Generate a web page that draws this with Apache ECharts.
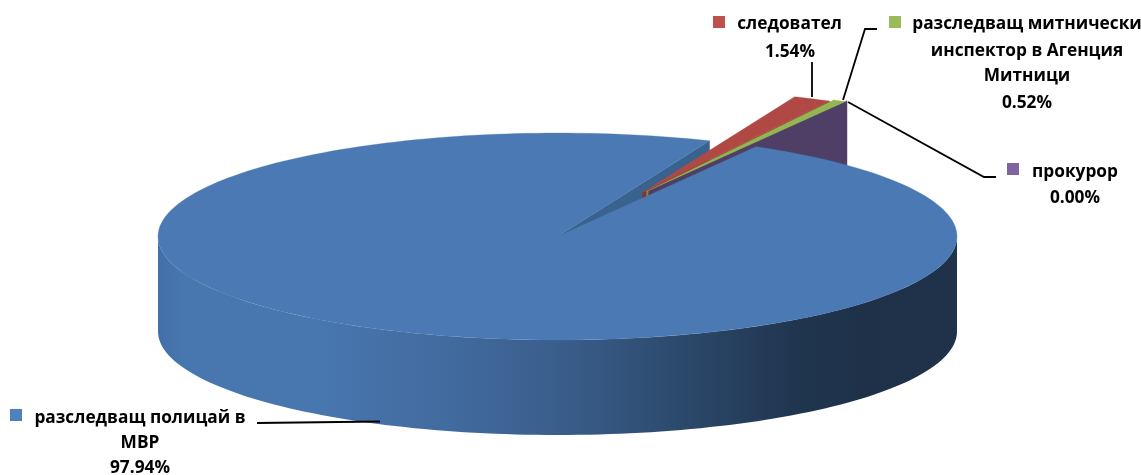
<!DOCTYPE html>
<html><head><meta charset="utf-8">
<style>html,body{margin:0;padding:0;background:#fff}#c{width:1141px;height:475px;filter:blur(0.4px)}</style>
<script src="https://cdn.jsdelivr.net/npm/echarts@6/dist/echarts.min.js"></script>
</head><body><div id="c"></div>
<script>
const categories = ['разследващ полицай в МВР','следовател','разследващ митнически инспектор в Агенция Митници','прокурор'];
const values = [97.94, 1.54, 0.52, 0.00];
const labelLines = [['разследващ полицай в','МВР'],['следовател'],['разследващ митнически','инспектор в Агенция','Митници'],['прокурор']];
const colors = ['#4a79b3','#b04844','#93b553','#5a4478'];
const wallColors = ['#3a628f','#8a3230','#74903f','#4f3e66'];
const keyColors = ['#4f81bd','#c0504d','#9bbb59','#8064a2'];

const P = {cx:557.5, cy:236.5, rx:399.5, ry:103.5, depth:95, start:60.2};
const explode = [[0,0],[85,-44],[89,-45],[91,-46]];
const labelPos = [
  {key:[10,409], lines:[[140,418],[140,443]], pct:[140,468]},
  {key:[713,16], lines:[[789.5,24]], pct:[790,52]},
  {key:[889,16], lines:[[1027,24],[1027,51],[1027,76]], pct:[1027,103]},
  {key:[1007,163], lines:[[1075,172]], pct:[1075,198]}
];
const leaders = [
  [[380,421.5],[257,423]],
  [[812,97],[812,62]],
  [[843,100],[865,29],[877,29]],
  [[848,102],[984,177],[996,177]]
];
const FONT = 'bold 17.3px "Open Sans", sans-serif';

const rad = d => d*Math.PI/180;
const pt = (a,o,dz) => [P.cx+o[0]+P.rx*Math.cos(rad(a)), P.cy+o[1]-P.ry*Math.sin(rad(a))+(dz||0)];
function arc(a0,a1,o,dz){const n=Math.max(2,Math.ceil(Math.abs(a1-a0)/1.5));const r=[];for(let i=0;i<=n;i++)r.push(pt(a0+(a1-a0)*i/n,o,dz));return r;}
const total = values.reduce((s,v)=>s+v,0);
let cursor = P.start;
const spans = values.map(v=>{const a0=cursor;cursor-=v/total*360;return [a0,cursor];});

function poly(points,fill,z2){return {type:'polygon',shape:{points},style:{fill,stroke:fill,lineWidth:0.3},z2};}
function radialWall(a,o,fill,z2){
  const c=[P.cx+o[0],P.cy+o[1]],e=pt(a,o);
  return poly([c,e,[e[0],e[1]+P.depth],[c[0],c[1]+P.depth]],fill,z2);
}
function renderItem(params,api){
  const i=params.dataIndex, v=api.value(1), span=spans[i], o=explode[i], ch=[];
  const [a0,a1]=span, c=[P.cx+o[0],P.cy+o[1]];
  if(i===0){
    const top=arc(180,360,o,0), bot=arc(360,180,o,P.depth);
    ch.push({type:'polygon',shape:{points:top.concat(bot)},z2:1,style:{fill:{type:'linear',x:0,y:0,x2:1,y2:0,colorStops:[
      {offset:0,color:'#426fa6'},{offset:0.03,color:'#4876af'},{offset:0.2,color:'#4876af'},{offset:0.36,color:'#426b9f'},{offset:0.5,color:'#3a5e8c'},{offset:0.65,color:'#2c4a6c'},{offset:0.8,color:'#20354f'},{offset:0.88,color:'#1e3149'},{offset:1,color:'#1f3249'}]}}});
    ch.push(radialWall(a1,o,wallColors[i],2));
    ch.push(poly([c].concat(arc(a0,a1,o)),colors[i],10));
  } else if(i===3){
    ch.push(radialWall(a0,o,wallColors[i],5));
  } else {
    ch.push(radialWall(a1,o,wallColors[i],3));
    ch.push(poly([c].concat(arc(a0,a1,o)),colors[i],10+i));
  }
  const lp=labelPos[i];
  ch.push({type:'rect',shape:{x:lp.key[0],y:lp.key[1],width:12,height:12},style:{fill:keyColors[i]},z2:20});
  labelLines[i].forEach((t,k)=>ch.push({type:'text',z2:20,style:{text:t,x:lp.lines[k][0],y:lp.lines[k][1],font:FONT,fill:'#000',textAlign:'center',textVerticalAlign:'middle'}}));
  ch.push({type:'text',z2:20,style:{text:v.toFixed(2)+'%',x:lp.pct[0],y:lp.pct[1],font:FONT,fill:'#000',textAlign:'center',textVerticalAlign:'middle'}});
  ch.push({type:'polyline',z2:19,shape:{points:leaders[i]},style:{fill:'none',stroke:'#000',lineWidth:1.8}});
  return {type:'group',children:ch};
}
const chart = echarts.init(document.getElementById('c'),null,{renderer:'canvas'});
chart.setOption({animation:false,backgroundColor:'#fff',series:[{type:'custom',coordinateSystem:'none',renderItem,clip:false,silent:true,
  data:categories.map((n,i)=>({name:n,value:[i,values[i]]}))}]});
</script></body></html>
